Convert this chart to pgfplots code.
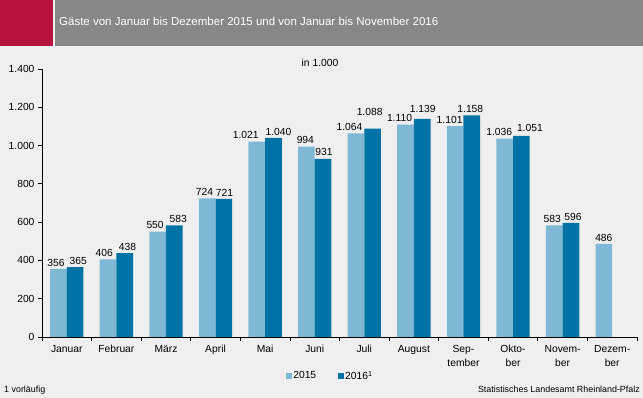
\documentclass[border=0pt]{standalone}
\usepackage{fontspec}
\setmainfont{Liberation Sans}
\usepackage{pgfplots}
\usepackage{pgfplotstable}
\pgfplotsset{compat=1.18}
\definecolor{bg}{HTML}{EEEFEE}
\definecolor{hdr}{HTML}{878787}
\definecolor{rd}{HTML}{B5123E}
\definecolor{c15}{HTML}{7FB8D4}
\definecolor{c16}{HTML}{0073A6}
\def\myshift{0}
\def\myyshift{0}
\pgfplotstableread{
x y dx dy
0 356 -2.5 0
1 406 -3.7 0
2 550 -2.5 0
3 724 -2.7 0
4 1021 -11 0
5 994 -1 0
6 1064 -6.5 0
7 1110 -6 0
8 1101 -5.5 0
9 1036 -5.5 0
10 583 -2 0
11 486 0 0
}\tabA
\pgfplotstableread{
x y dx dy
0 365 3 0
1 438 2.8 0
2 583 4 0
3 721 0.5 0
4 1040 5 0
5 931 1 0
6 1088 -3 10
7 1139 0.5 4
8 1158 -1.5 0
9 1051 8.5 2
10 596 2 0
}\tabB
\begin{document}
\begin{tikzpicture}[x=1pt,y=1pt]
\fill[bg] (0,0) rectangle (643,398);
\fill[rd] (0,352) rectangle (53,398);
\fill[hdr] (55,352) rectangle (643,398);
\node[anchor=west, text=white, font=\fontsize{11.5}{13}\selectfont, inner sep=0pt] at (59,377) {Gäste von Januar bis Dezember 2015 und von Januar bis November 2016};
\node[font=\fontsize{10.3}{12}\selectfont] at (320,335) {in 1.000};
\node[anchor=west, font=\fontsize{8.9}{10}\selectfont, inner sep=0pt] at (4,8) {1 vorläufig};
\node[anchor=east, font=\fontsize{8.9}{10}\selectfont, inner sep=0pt] at (640,9) {Statistisches Landesamt Rheinland-Pfalz};
\begin{axis}[
  at={(42pt,61pt)}, anchor=south west,
  scale only axis, width=595pt, height=268pt,
  xmin=-0.5, xmax=11.5, ymin=0, ymax=1400,
  axis x line*=bottom, axis y line*=left,
  axis line style={black, line width=0.8pt},
  every tick/.style={black, line width=0.8pt},
  tick align=outside,
  major tick length=4pt, minor tick length=4pt,
  ytick={0,200,...,1400},
  xtick={0,...,11},
  xticklabels={Januar, Februar, März, April, Mai, Juni, Juli, August, {Sep-\\tember}, {Okto-\\ber}, {Novem-\\ber}, {Dezem-\\ber}},
  major x tick style={draw=none},
  minor xtick={-0.5,0.5,...,11.5},
  xticklabel style={align=center, font=\fontsize{10.3}{14.5}\selectfont, anchor=north, yshift=-0.5pt},
  yticklabel style={font=\fontsize{10.3}{12}\selectfont},
  /pgf/number format/.cd, 1000 sep={.}, assume math mode=true, /pgfplots/.cd,
  ybar, bar width=16.7pt,
  legend columns=2,
  legend style={at={(0.484,-0.146)}, anchor=center, draw=none, fill=none,
    font=\fontsize{10.3}{12}\selectfont,
    nodes={inner sep=1pt},
    /tikz/every even column/.append style={column sep=21pt}},
  legend image code/.code={\fill[#1] (0pt,-3pt) rectangle (6pt,3pt);},
]
\addplot[fill=c15, draw=none, forget plot, bar shift=-8.35pt,
  nodes near coords,
  nodes near coords style={font=\fontsize{10.3}{12}\selectfont, inner sep=2.5pt, xshift=\myshift pt, yshift=\myyshift pt},
  visualization depends on={\thisrow{dx} \as \myshift},
  visualization depends on={\thisrow{dy} \as \myyshift}] table[x=x,y=y] {\tabA};
\addplot[fill=c16, draw=none, forget plot, bar shift=8.35pt,
  nodes near coords,
  nodes near coords style={font=\fontsize{10.3}{12}\selectfont, inner sep=2.5pt, xshift=\myshift pt, yshift=\myyshift pt},
  visualization depends on={\thisrow{dx} \as \myshift},
  visualization depends on={\thisrow{dy} \as \myyshift}] table[x=x,y=y] {\tabB};
\addlegendimage{fill=c15, draw=none}
\addlegendentry{2015}
\addlegendimage{fill=c16, draw=none}
\addlegendentry{2016\textsuperscript{1}}
\end{axis}
\end{tikzpicture}
\end{document}
